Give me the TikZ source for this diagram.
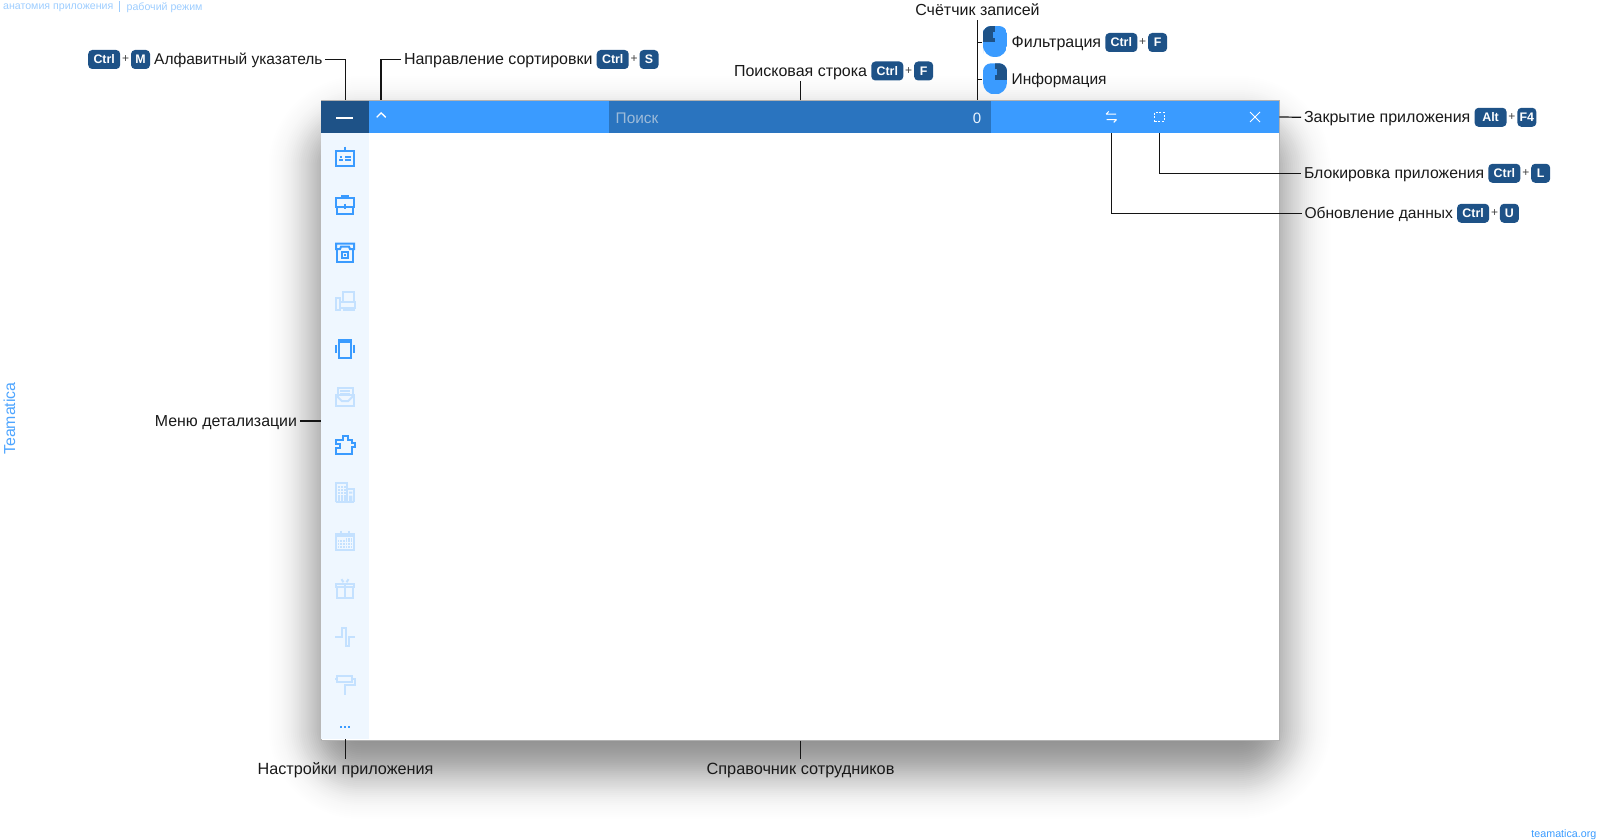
\documentclass[tikz,border=0pt]{standalone}
\usepackage{fontspec}
\setmainfont{Liberation Sans}
\usetikzlibrary{positioning}

\definecolor{barblue}{HTML}{3A9BFF}
\definecolor{keyblue}{HTML}{1E5287}
\definecolor{searchblue}{HTML}{2A74BF}
\definecolor{sideblue}{HTML}{EFF7FF}
\definecolor{icolight}{HTML}{C4E1FF}
\definecolor{notelight}{HTML}{9DCDFF}
\definecolor{hintgray}{HTML}{9DBBD9}

\tikzset{
  lbl/.style={inner sep=0pt,outer sep=3pt,text=black!90,font=\fontsize{#1}{18}\selectfont,text height=12pt,text depth=1.5pt},
  lbl/.default=16,
  keycap/.style={rectangle,rounded corners=4pt,fill=keyblue,text=white,inner sep=0pt,minimum height=19pt,minimum width=19pt,font=\fontsize{12.4}{14}\bfseries,text height=9pt,text depth=0pt},
  ctrlcap/.style={keycap,minimum width=32pt},
  pluscap/.style={inner sep=0pt,minimum width=10pt,text=black!75,font=\fontsize{12}{14}\selectfont},
  callout/.style={line width=1.2pt,draw=black!92},
  pics/icoCard/.style={code={
    \draw (-9,-6) rectangle (9,9.2);
    \draw (0,-10) -- (0,-6);
    \draw (-5.5,0) -- (-3,0) (0,0) -- (6,0) (-6,3.4) -- (-2,3.4) (0,3.4) -- (6,3.4);
  }},
  pics/icoCase/.style={code={
    \draw (-3.3,-6.6) -- (-3.3,-9) -- (3.3,-9) -- (3.3,-6.6);
    \draw (-9,-6.6) rectangle (9,2.4);
    \draw (-8,2.4) -- (-8,9.2) -- (8,9.2) -- (8,2.4);
    \draw (0,-1) -- (0,4);
  }},
  pics/icoPhone/.style={code={
    \draw (-9,-3.5) -- (-9,-9) -- (9,-9) -- (9,-3.5) -- (5,-3.5) -- (4,-6) -- (-4,-6) -- (-5,-3.5) -- cycle;
    \draw (-8,-3.5) -- (-8,9.2) -- (8,9.2) -- (8,-3.5);
    \draw (-3,-1) rectangle (3,5);
    \fill (-1,1) rectangle (1,3);
  }},
  pics/icoFax/.style={code={
    \draw (-2.5,0) -- (-2.5,-9) -- (9,-9) -- (9,0);
    \draw (-9,-3) rectangle (-5,9.5);
    \draw (-5,1) rectangle (9.5,7);
    \draw (-2.5,9.5) -- (9.5,9.5);
  }},
  pics/icoVibro/.style={code={
    \draw (-6.4,-9.2) rectangle (6.4,9.2);
    \draw (-6.4,-7) -- (6.4,-7);
    \draw (-9.2,-4) -- (-9.2,4) (9.2,-4) -- (9.2,4);
  }},
  pics/icoMail/.style={code={
    \draw (-9,-1.5) rectangle (9,9.2);
    \fill[sideblue] (-7.6,-1) rectangle (7.6,2);
    \draw (-7.5,1) -- (-7.5,-9) -- (7.5,-9) -- (7.5,1);
    \draw (-5,-5.5) -- (5,-5.5) (-5,-2.5) -- (5,-2.5);
    \draw (-9,-1.5) -- (-3,4.5) -- (3,4.5) -- (9,-1.5);
  }},
  pics/icoPuzzle/.style={code={
    \draw (-2.5,-5) -- (-2.5,-9.2) -- (2.5,-9.2) -- (2.5,-5) -- (6.5,-5) -- (6.5,-2) -- (9.5,-2) -- (9.5,2.5) -- (6.5,2.5) -- (6.5,9) -- (-9,9) -- (-9,3.5) -- (-5,3.5) -- (-5,-0.5) -- (-9,-0.5) -- (-9,-5) -- cycle;
  }},
  pics/icoTower/.style={code={
    \draw (-9,9.5) -- (-9,-9.3) -- (2,-9.3) -- (2,9.5);
    \draw (2,-3.5) -- (9.2,-3.5) -- (9.2,9.5);
    \draw (-9,9.5) -- (9.2,9.5);
    \foreach \wy in {-6,-3,0} \foreach \wx in {-6,-3,0} \fill (\wx-0.9,\wy-0.9) rectangle (\wx+0.9,\wy+0.9);
    \foreach \wx in {-6,-3,0} \fill (\wx-0.9,2) rectangle (\wx+0.9,8.5);
    \fill (4.2,-1) rectangle (7.4,1) (4.2,3) rectangle (7.4,8.5);
  }},
  pics/icoCalendar/.style={code={
    \draw (-9.2,-6.5) rectangle (9.2,9.2);
    \draw (-9.2,-5) -- (9.2,-5);
    \draw (-4.2,-10) -- (-4.2,-6) (4.2,-10) -- (4.2,-6);
    \foreach \wx in {1.5,4,6.5} \fill (\wx-0.9,-3) rectangle (\wx+0.9,-1.2);
    \foreach \wy in {0.3,3.3,6.2} \foreach \wx in {-6.5,-4,-1,1.5,4,6.5} \fill (\wx-0.9,\wy-0.9) rectangle (\wx+0.9,\wy+0.9);
  }},
  pics/icoGift/.style={code={
    \draw (-9.2,-4.5) rectangle (9.2,-1.5);
    \draw (-8,-1.5) -- (-8,9.2) -- (8,9.2) -- (8,-1.5);
    \draw (0,-4.5) -- (0,9.2);
    \draw (-3.5,-9.5) -- (-1.5,-6.5) (3.5,-9.5) -- (1.5,-6.5);
  }},
  pics/icoPulse/.style={code={
    \draw (-10,0) -- (-3,0) -- (-3,-9.2) -- (0.5,-9.2) -- (0.5,9.2) -- (3.8,9.2) -- (3.8,0) -- (10,0);
  }},
  pics/icoRoller/.style={code={
    \draw (-8,-9) rectangle (7,-3);
    \draw (-10,-6) -- (-8,-6) (7,-6) -- (9.7,-6) -- (9.7,0) -- (0,0) -- (0,10);
  }},
  pics/mouseKey/.style={code={
    \begin{scope}
      \clip[rounded corners=8pt] (-12,0) -- (-12,-15.6) -- (12,-15.6) [rounded corners=11.9pt] -- (12,15.6) -- (-12,15.6) -- cycle;
      \fill[barblue] (-12,-15.6) rectangle (12,15.6);
      \fill[keyblue] (-12,-15.6) rectangle (0,0.7);
      \fill[barblue] (-1.7,-10) rectangle (0,-3.5);
    \end{scope}
  }},
}

\begin{document}
\begin{tikzpicture}[x=1pt,y=-1pt]
  \useasboundingbox (0,0) rectangle (1600,840);

  % soft drop shadow of the window
  \foreach \d in {56,54,...,-36} {
    \pgfmathsetmacro{\alph}{0.66*2/(24*2.5066)*exp(-\d*\d/1152)}
    \pgfmathsetmacro{\rad}{max(\d+40,4)}
    \fill[black,opacity=\alph,rounded corners=\rad pt] (320.5-\d,128-\d) rectangle (1279+\d,767+\d);
  }

  % window
  \node[draw=black!30,line width=1pt,fill=white,inner sep=0pt,anchor=north west,minimum width=958.5pt,minimum height=639.5pt] (win) at (320.5,100) {};
  \node[fill=barblue,inner sep=0pt,anchor=north west,minimum width=958pt,minimum height=32.5pt] (titlebar) at (321,100.5) {};
  \node[fill=keyblue,inner sep=0pt,anchor=north west,minimum width=48pt,minimum height=32.5pt] (menubtn) at (321,100.5) {};
  \node[fill=sideblue,inner sep=0pt,anchor=north west,minimum width=48pt,minimum height=606pt] (sidebar) at (321,133) {};
  \node[fill=searchblue,inner sep=0pt,anchor=north west,minimum width=382pt,minimum height=32.5pt] (searchbox) at (609,100.5) {};
  \node[anchor=west,inner sep=0pt,text=hintgray,font=\fontsize{15.4}{18}\selectfont] (searchhint) at (615.5,118.5) {Поиск};
  \node[inner sep=0pt,text=white!90!barblue,font=\fontsize{15}{18}\selectfont] (counterval) at (977,118) {0};

  % title bar buttons
  \draw[white,line width=2pt] (336,118.5) -- (353,118.5);
  \draw[white,line width=1.3pt] (376.7,117.3) -- (381.2,112.9) -- (385.7,117.3);
  \coordinate (syncbtn) at (1111.5,117);
  \node[draw=white,line width=1pt,dash pattern=on 2pt off 1.6pt,inner sep=0pt,minimum size=9.5pt] (lockbtn) at (1159.3,117) {};
  \coordinate (closebtn) at (1255,117);
  \draw[white,line width=1pt] (1106,114.2) -- (1116,114.2) (1106,114.2) -- (1108.8,111.4) (1106.5,119.6) -- (1116.5,119.6) (1116.5,119.6) -- (1113.7,122.4);
  \draw[white,line width=1pt] (1250,112) -- (1260,122) (1260,112) -- (1250,122);

  % detail menu icons
  \foreach \ico/\col [count=\i from 0] in {icoCard/barblue,icoCase/barblue,icoPhone/barblue,icoFax/icolight,icoVibro/barblue,icoMail/icolight,icoPuzzle/barblue,icoTower/icolight,icoCalendar/icolight,icoGift/icolight,icoPulse/icolight,icoRoller/icolight}
    \pic[color=\col,line width=2pt] at (345,156.7+48*\i) {\ico};
  \foreach \dotx in {341,345,349}
    \fill[barblue] (\dotx-1,726) rectangle (\dotx+1,728);

  % top left caption and side marks
  \node[anchor=west,inner sep=0pt,text=notelight,font=\fontsize{10.6}{13}\selectfont] (crumbone) at (3,8) {анатомия приложения};
  \node[anchor=west,inner sep=0pt,text=notelight,font=\fontsize{10.6}{13}\selectfont] (crumbtwo) at (126.5,8) {рабочий режим};
  \draw[notelight,line width=0.8pt] (119.3,1) -- (119.3,12);
  \node[rotate=90,inner sep=0pt,text=barblue!90,font=\fontsize{15.9}{18}\selectfont] (brandside) at (9.5,418.5) {Teamatica};
  \node[anchor=east,inner sep=0pt,text=barblue,font=\fontsize{10.7}{13}\selectfont] (brandsite) at (1596.5,834.5) {teamatica.org};

  % alphabet index
  \node[ctrlcap,anchor=west] (alphaCtrl) at (88,59.5) {Ctrl};
  \node[pluscap,right=0pt of alphaCtrl] (alphaPlus) {+};
  \node[keycap,right=0pt of alphaPlus] (alphaKey) {M};
  \node[lbl=15.5,right=1pt of alphaKey] (lblAlpha) {Алфавитный указатель};
  \draw[callout] (lblAlpha.east) -| (win.north -| menubtn.north);

  % sort direction
  \node[lbl,anchor=west] (lblSort) at (401,59.5) {Направление сортировки};
  \node[ctrlcap,right=1pt of lblSort] (sortCtrl) {Ctrl};
  \node[pluscap,right=0pt of sortCtrl] (sortPlus) {+};
  \node[keycap,right=0pt of sortPlus] (sortKey) {S};
  \coordinate (sortbtn) at (381,100);
  \draw[callout] (lblSort.west) -| (sortbtn);

  % search line
  \node[lbl,anchor=west] (lblSearch) at (731,71) {Поисковая строка};
  \node[ctrlcap,right=1pt of lblSearch] (searchCtrl) {Ctrl};
  \node[pluscap,right=0pt of searchCtrl] (searchPlus) {+};
  \node[keycap,right=0pt of searchPlus] (searchKey) {F};
  \draw[callout] (searchbox.north) -- (searchbox.north |- lblSearch.south);

  % record counter
  \node[lbl] (lblCount) at (977.5,10.7) {Счётчик записей};
  \pic at (995,41.6) {mouseKey};
  \pic[xscale=-1] at (995,78.9) {mouseKey};
  \node[lbl,anchor=west] (lblFilter) at (1008.7,42.5) {Фильтрация};
  \node[ctrlcap,right=1pt of lblFilter] (filterCtrl) {Ctrl};
  \node[pluscap,right=0pt of filterCtrl] (filterPlus) {+};
  \node[keycap,right=0pt of filterPlus] (filterKey) {F};
  \node[lbl=15.5,anchor=west] (lblInfo) at (1008.7,79.3) {Информация};
  \draw[callout] (lblCount.south) -- (lblCount.south |- win.north);
  \draw[callout] (lblCount.south |- lblFilter) -- ++(4.5,0);
  \draw[callout] (lblCount.south |- lblInfo) -- ++(4.5,0);

  % right side
  \node[lbl,anchor=west] (lblClose) at (1301,117.3) {Закрытие приложения};
  \node[ctrlcap,right=1pt of lblClose] (closeAlt) {Alt};
  \node[pluscap,right=0pt of closeAlt] (closePlus) {+};
  \node[keycap,right=0pt of closePlus] (closeKey) {F4};
  \draw[callout] (titlebar.east) -- (lblClose.west);

  \node[lbl=15.8,anchor=west] (lblLock) at (1301,173.3) {Блокировка приложения};
  \node[ctrlcap,right=1pt of lblLock] (lockCtrl) {Ctrl};
  \node[pluscap,right=0pt of lockCtrl] (lockPlus) {+};
  \node[keycap,right=0pt of lockPlus] (lockKey) {L};
  \draw[callout] (lockbtn |- titlebar.south) |- (lblLock.west);

  \node[lbl=15.6,anchor=west] (lblSync) at (1301.5,213.3) {Обновление данных};
  \node[ctrlcap,right=1pt of lblSync] (syncCtrl) {Ctrl};
  \node[pluscap,right=0pt of syncCtrl] (syncPlus) {+};
  \node[keycap,right=0pt of syncPlus] (syncKey) {U};
  \draw[callout] (syncbtn |- titlebar.south) |- (lblSync.west);

  % left and bottom
  \node[lbl=15.9,anchor=east] (lblDetail) at (300,421) {Меню детализации};
  \draw[callout] (lblDetail.east) -- (win.west |- lblDetail);
  \node[lbl=16.2] (lblSettings) at (345.5,769) {Настройки приложения};
  \draw[callout] (sidebar.south) -- (lblSettings.north -| sidebar.south);
  \node[lbl=16.3] (lblStaff) at (800.5,769) {Справочник сотрудников};
  \draw[callout] (searchbox.north |- win.south) -- (searchbox.north |- lblStaff.north);
\end{tikzpicture}
\end{document}
